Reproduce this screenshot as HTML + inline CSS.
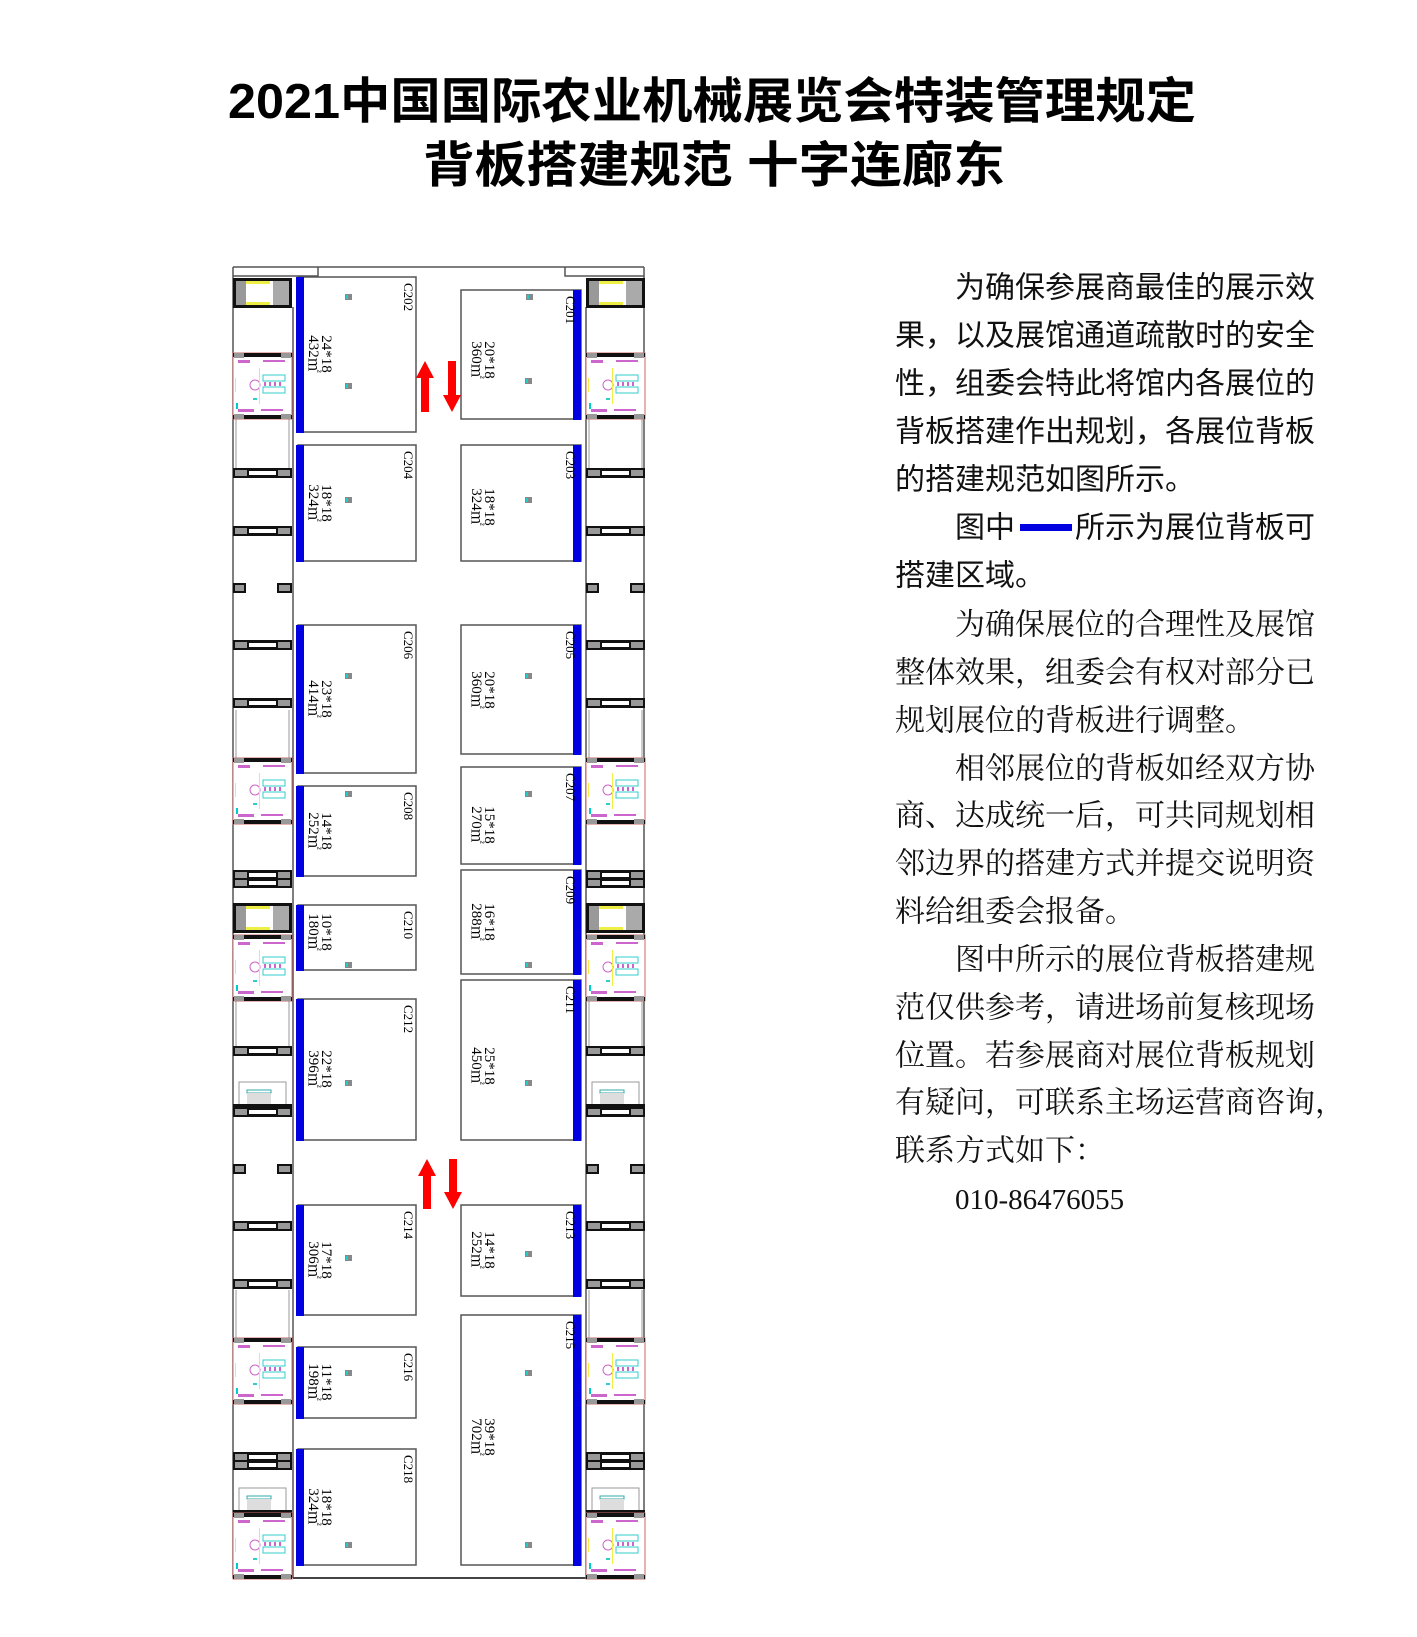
<!DOCTYPE html>
<html><head><meta charset="utf-8"><style>
html,body{margin:0;padding:0;background:#fff;}
svg{display:block;}
.t{font-family:"Liberation Sans","Noto Sans CJK SC",sans-serif;}
.s{font-family:"Liberation Serif","Noto Serif CJK SC",serif;}
.b{font-family:"Liberation Serif","Noto Serif CJK SC",serif;font-size:13px;fill:#000;}
.z{font-family:"Liberation Serif","Noto Serif CJK SC",serif;font-size:15px;fill:#000;}
</style></head><body>
<svg width="1417" height="1637" viewBox="0 0 1417 1637" xmlns="http://www.w3.org/2000/svg">
<defs>
<g id="bar"><rect x="0" y="0" width="59" height="10" fill="#111"/><rect x="2" y="2" width="12" height="6" fill="#999"/><rect x="45" y="2" width="12" height="6" fill="#999"/><rect x="16" y="3" width="27" height="4" fill="#fff"/></g>
<g id="pair"><rect x="0" y="0" width="13" height="10" fill="#111"/><rect x="2" y="2" width="9" height="6" fill="#999"/><rect x="44" y="0" width="15" height="10" fill="#111"/><rect x="46" y="2" width="11" height="6" fill="#999"/></g>
<g id="toilet"><rect x="0" y="0" width="59" height="66" fill="#fff" stroke="#c66" stroke-width="1"/><rect x="0" y="0" width="59" height="4" fill="#111"/><rect x="1" y="0" width="10" height="5" fill="#999"/><rect x="48" y="0" width="10" height="5" fill="#999"/><rect x="0" y="62" width="59" height="4" fill="#111"/><rect x="1" y="61" width="10" height="5" fill="#999"/><rect x="48" y="61" width="10" height="5" fill="#999"/>
<rect x="5" y="7" width="12" height="3" fill="#c6c"/><rect x="30" y="7" width="22" height="2" fill="#c6c"/><rect x="5" y="56" width="16" height="3" fill="#c6c"/><rect x="28" y="56" width="22" height="2" fill="#c6c"/>
<rect x="30" y="22" width="22" height="6" fill="none" stroke="#3cc" stroke-width="1"/><rect x="30" y="34" width="22" height="6" fill="none" stroke="#3cc" stroke-width="1"/>
<rect x="31" y="29" width="2" height="4" fill="#c6c"/><rect x="36" y="29" width="2" height="4" fill="#c6c"/><rect x="41" y="29" width="2" height="4" fill="#c6c"/><rect x="46" y="29" width="2" height="4" fill="#c6c"/>
<circle cx="22" cy="32" r="5" fill="none" stroke="#c6c"/><rect x="2" y="25" width="1" height="14" fill="#ee4"/><rect x="26" y="15" width="1" height="36" fill="#ee4"/><rect x="20" y="45" width="4" height="2" fill="#3cc"/><rect x="3" y="50" width="2" height="6" fill="#0cc"/></g>
<g id="box"><rect x="0" y="0" width="59" height="30" fill="#111"/><rect x="3" y="3" width="53" height="24" fill="#fff"/><rect x="3" y="3" width="10" height="24" fill="#999"/><rect x="40" y="3" width="16" height="24" fill="#aaa"/><rect x="13" y="3" width="24" height="3" fill="#ee4"/><rect x="13" y="24" width="24" height="3" fill="#ee4"/></g>
<g id="stair"><rect x="6" y="0" width="47" height="25" fill="none" stroke="#999"/><rect x="14" y="8" width="24" height="3" fill="none" stroke="#3aa"/><rect x="14" y="11" width="24" height="12" fill="#ddd"/><rect x="0" y="22" width="59" height="4" fill="#111"/></g>
<g id="mk"><rect x="0" y="0" width="7" height="6" fill="#888"/><rect x="1" y="1" width="2" height="4" fill="#2cc"/></g>
</defs>

<!-- Title -->
<text class="t" x="228" y="118" font-size="49" font-weight="bold" textLength="968" lengthAdjust="spacingAndGlyphs" fill="#000">2021中国国际农业机械展览会特装管理规定</text>
<text class="t" x="423" y="182" font-size="49" font-weight="bold" textLength="582" lengthAdjust="spacingAndGlyphs" fill="#000">背板搭建规范  十字连廊东</text>

<!-- Plan outline -->
<g fill="none" stroke="#555" stroke-width="1.5">
<line x1="233" y1="267" x2="644" y2="267"/>
<line x1="233" y1="267" x2="233" y2="1578"/>
<line x1="644" y1="267" x2="644" y2="1578"/>
<line x1="293" y1="307" x2="293" y2="1578"/>
<line x1="586" y1="307" x2="586" y2="1578"/>
<polyline points="233,276 318,276 318,267"/>
<polyline points="644,276 565,276 565,267"/>
<line x1="293" y1="1578" x2="586" y2="1578" stroke="#444" stroke-width="2"/>
</g>
<g stroke="#999" stroke-width="1">
<line x1="236" y1="418" x2="236" y2="472"/><line x1="289" y1="418" x2="289" y2="472"/>
<line x1="236" y1="710" x2="236" y2="758"/><line x1="289" y1="710" x2="289" y2="758"/>
<line x1="236" y1="998" x2="236" y2="1050"/><line x1="289" y1="998" x2="289" y2="1050"/>
<line x1="236" y1="1290" x2="236" y2="1338"/><line x1="289" y1="1290" x2="289" y2="1338"/>
<line x1="589" y1="418" x2="589" y2="472"/><line x1="642" y1="418" x2="642" y2="472"/>
<line x1="589" y1="710" x2="589" y2="758"/><line x1="642" y1="710" x2="642" y2="758"/>
<line x1="589" y1="998" x2="589" y2="1050"/><line x1="642" y1="998" x2="642" y2="1050"/>
<line x1="589" y1="1290" x2="589" y2="1338"/><line x1="642" y1="1290" x2="642" y2="1338"/>
</g>
<g id="side">
<use href="#box" x="233" y="278"/>
<use href="#toilet" x="233" y="353"/>
<use href="#bar" x="233" y="468"/>
<use href="#bar" x="233" y="526"/>
<use href="#pair" x="233" y="583"/>
<use href="#bar" x="233" y="640"/>
<use href="#bar" x="233" y="698"/>
<use href="#toilet" x="233" y="758"/>
<use href="#bar" x="233" y="870"/><use href="#bar" x="233" y="878"/>
<use href="#box" x="233" y="903"/>
<use href="#toilet" x="233" y="935"/>
<use href="#bar" x="233" y="1046"/>
<use href="#stair" x="233" y="1082"/>
<use href="#bar" x="233" y="1107"/>
<use href="#pair" x="233" y="1164"/>
<use href="#bar" x="233" y="1221"/>
<use href="#bar" x="233" y="1279"/>
<use href="#toilet" x="233" y="1338"/>
<use href="#bar" x="233" y="1452"/><use href="#bar" x="233" y="1460"/>
<use href="#stair" x="233" y="1488"/>
<use href="#toilet" x="233" y="1513"/>
</g>
<use href="#side" x="353" y="0"/>

<g fill="#fff" stroke="#555" stroke-width="1.5">
<rect x="298" y="277" width="118" height="155"/>
<rect x="298" y="445" width="118" height="116"/>
<rect x="298" y="625" width="118" height="148"/>
<rect x="298" y="786" width="118" height="90"/>
<rect x="298" y="905" width="118" height="65"/>
<rect x="298" y="999" width="118" height="141"/>
<rect x="298" y="1205" width="118" height="110"/>
<rect x="298" y="1347" width="118" height="71"/>
<rect x="298" y="1449" width="118" height="116"/>
<rect x="461" y="290" width="120" height="129"/>
<rect x="461" y="445" width="120" height="116"/>
<rect x="461" y="625" width="120" height="129"/>
<rect x="461" y="767" width="120" height="97"/>
<rect x="461" y="870" width="120" height="104"/>
<rect x="461" y="980" width="120" height="160"/>
<rect x="461" y="1205" width="120" height="91"/>
<rect x="461" y="1315" width="120" height="250"/>
</g>
<g fill="#0000e0">
<rect x="296" y="277" width="8" height="156"/>
<rect x="296" y="445" width="8" height="117"/>
<rect x="296" y="625" width="8" height="149"/>
<rect x="296" y="786" width="8" height="91"/>
<rect x="296" y="905" width="8" height="66"/>
<rect x="296" y="999" width="8" height="142"/>
<rect x="296" y="1205" width="8" height="111"/>
<rect x="296" y="1347" width="8" height="72"/>
<rect x="296" y="1449" width="8" height="117"/>
<rect x="573" y="290" width="8" height="130"/>
<rect x="573" y="445" width="8" height="117"/>
<rect x="573" y="625" width="8" height="130"/>
<rect x="573" y="767" width="8" height="98"/>
<rect x="573" y="870" width="8" height="105"/>
<rect x="573" y="980" width="8" height="161"/>
<rect x="573" y="1205" width="8" height="92"/>
<rect x="573" y="1315" width="8" height="251"/>
</g>

<use href="#mk" x="345" y="294"/><use href="#mk" x="345" y="383"/>
<use href="#mk" x="345" y="497"/>
<use href="#mk" x="345" y="673"/>
<use href="#mk" x="345" y="791"/>
<use href="#mk" x="345" y="962"/>
<use href="#mk" x="345" y="1080"/>
<use href="#mk" x="345" y="1255"/>
<use href="#mk" x="345" y="1370"/>
<use href="#mk" x="345" y="1542"/>
<use href="#mk" x="526" y="294"/><use href="#mk" x="525" y="378"/>
<use href="#mk" x="525" y="497"/>
<use href="#mk" x="525" y="673"/>
<use href="#mk" x="525" y="791"/>
<use href="#mk" x="525" y="962"/>
<use href="#mk" x="525" y="1080"/>
<use href="#mk" x="525" y="1251"/>
<use href="#mk" x="525" y="1370"/>
<use href="#mk" x="525" y="1542"/>

<g class="b" font-size="14">
<text transform="translate(404,283) rotate(90)">C202</text>
<text transform="translate(404,451) rotate(90)">C204</text>
<text transform="translate(404,631) rotate(90)">C206</text>
<text transform="translate(404,792) rotate(90)">C208</text>
<text transform="translate(404,911) rotate(90)">C210</text>
<text transform="translate(404,1005) rotate(90)">C212</text>
<text transform="translate(404,1211) rotate(90)">C214</text>
<text transform="translate(404,1353) rotate(90)">C216</text>
<text transform="translate(404,1455) rotate(90)">C218</text>
<text transform="translate(566,296) rotate(90)">C201</text>
<text transform="translate(566,451) rotate(90)">C203</text>
<text transform="translate(566,631) rotate(90)">C205</text>
<text transform="translate(566,773) rotate(90)">C207</text>
<text transform="translate(566,876) rotate(90)">C209</text>
<text transform="translate(566,986) rotate(90)">C211</text>
<text transform="translate(566,1211) rotate(90)">C213</text>
<text transform="translate(566,1321) rotate(90)">C215</text>
</g>
<g class="z" text-anchor="middle">
<text transform="translate(322,354) rotate(90)">24*18</text><text transform="translate(309,354) rotate(90)">432㎡</text>
<text transform="translate(322,503) rotate(90)">18*18</text><text transform="translate(309,503) rotate(90)">324㎡</text>
<text transform="translate(322,699) rotate(90)">23*18</text><text transform="translate(309,699) rotate(90)">414㎡</text>
<text transform="translate(322,831) rotate(90)">14*18</text><text transform="translate(309,831) rotate(90)">252㎡</text>
<text transform="translate(322,932) rotate(90)">10*18</text><text transform="translate(309,932) rotate(90)">180㎡</text>
<text transform="translate(322,1069) rotate(90)">22*18</text><text transform="translate(309,1069) rotate(90)">396㎡</text>
<text transform="translate(322,1260) rotate(90)">17*18</text><text transform="translate(309,1260) rotate(90)">306㎡</text>
<text transform="translate(322,1382) rotate(90)">11*18</text><text transform="translate(309,1382) rotate(90)">198㎡</text>
<text transform="translate(322,1507) rotate(90)">18*18</text><text transform="translate(309,1507) rotate(90)">324㎡</text>
<text transform="translate(485,360) rotate(90)">20*18</text><text transform="translate(472,360) rotate(90)">360㎡</text>
<text transform="translate(485,507) rotate(90)">18*18</text><text transform="translate(472,507) rotate(90)">324㎡</text>
<text transform="translate(485,690) rotate(90)">20*18</text><text transform="translate(472,690) rotate(90)">360㎡</text>
<text transform="translate(485,825) rotate(90)">15*18</text><text transform="translate(472,825) rotate(90)">270㎡</text>
<text transform="translate(485,922) rotate(90)">16*18</text><text transform="translate(472,922) rotate(90)">288㎡</text>
<text transform="translate(485,1066) rotate(90)">25*18</text><text transform="translate(472,1066) rotate(90)">450㎡</text>
<text transform="translate(485,1250) rotate(90)">14*18</text><text transform="translate(472,1250) rotate(90)">252㎡</text>
<text transform="translate(485,1437) rotate(90)">39*18</text><text transform="translate(472,1437) rotate(90)">702㎡</text>
</g>

<g fill="#ff0000">
<polygon points="421,412 421,378 416,378 425,361 434,378 429,378 429,412"/>
<polygon points="448,361 448,395 443,395 452,412 461,395 456,395 456,361"/>
<polygon points="423,1209 423,1176 418,1176 427,1159 436,1176 431,1176 431,1209"/>
<polygon points="449,1159 449,1192 444,1192 453,1209 462,1192 457,1192 457,1159"/>
</g>

<g class="t" font-size="30" fill="#111" dominant-baseline="central">
<text x="955" y="288">为确保参展商最佳的展示效</text>
<text x="895" y="336">果，以及展馆通道疏散时的安全</text>
<text x="895" y="384">性，组委会特此将馆内各展位的</text>
<text x="895" y="432">背板搭建作出规划，各展位背板</text>
<text x="895" y="480">的搭建规范如图所示。</text>
<text x="955" y="528">图中</text>
<text x="1075" y="528">所示为展位背板可</text>
<text x="895" y="576">搭建区域。</text>
</g>
<rect x="1020" y="524" width="52" height="7" fill="#0000e0"/>
<g class="s" font-size="30" fill="#111" dominant-baseline="central">
<text x="955" y="625">为确保展位的合理性及展馆</text>
<text x="895" y="673">整体效果，组委会有权对部分已</text>
<text x="895" y="721">规划展位的背板进行调整。</text>
<text x="955" y="769">相邻展位的背板如经双方协</text>
<text x="895" y="816">商、达成统一后，可共同规划相</text>
<text x="895" y="864">邻边界的搭建方式并提交说明资</text>
<text x="895" y="912">料给组委会报备。</text>
<text x="955" y="960">图中所示的展位背板搭建规</text>
<text x="895" y="1008">范仅供参考，请进场前复核现场</text>
<text x="895" y="1056">位置。若参展商对展位背板规划</text>
<text x="895" y="1103">有疑问，可联系主场运营商咨询，</text>
<text x="895" y="1151">联系方式如下：</text>
<text x="955" y="1200" font-size="29">010-86476055</text>
</g>
</svg>
</body></html>
